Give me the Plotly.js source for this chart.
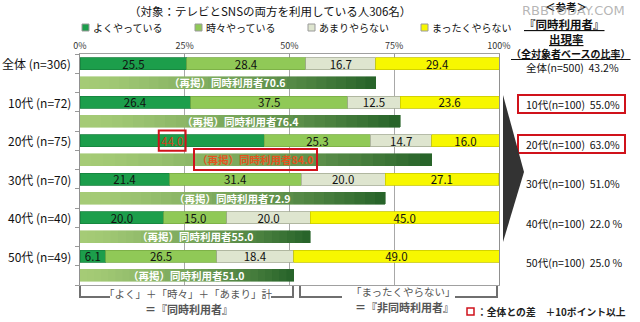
<!DOCTYPE html>
<html>
<head>
<meta charset="utf-8">
<script src="https://cdn.plot.ly/plotly-3.0.1.min.js"></script>
<style>html,body{margin:0;padding:0;background:#fff;}#chart{width:640px;height:322px;}</style>
</head>
<body>
<div id="chart"></div>
<script>
// ---- data ----
const categories = ['全体 (n=306)','10代 (n=72)','20代 (n=75)','30代 (n=70)','40代 (n=40)','50代 (n=49)'];
const seriesNames = ['よくやっている','時々やっている','あまりやらない','まったくやらない'];
const yoku     = [25.5, 26.4, 44.0, 21.4, 20.0, 6.1];
const tokidoki = [28.4, 37.5, 25.3, 31.4, 15.0, 26.5];
const amari    = [16.7, 12.5, 14.7, 20.0, 20.0, 18.4];
const mattaku  = [29.4, 23.6, 16.0, 27.1, 45.0, 49.0];
const doujiRecap = [70.6, 76.4, 84.0, 72.9, 55.0, 51.0];
const recapLabel = '（再掲）同時利用者';
const refLabels = ['全体(n=500)','10代(n=100)','20代(n=100)','30代(n=100)','40代(n=100)','50代(n=100)'];
const refRates  = [43.2, 55.0, 63.0, 51.0, 22.0, 25.0];
const refUnits  = ['%','%','%','%',' %',' %'];
const refHighlight = [false, true, true, false, false, false];
const mainHighlight = [false, false, true, false, false, false];
const xTickVals = [0, 25, 50, 75, 100];
const xTickText = ['0%','25%','50%','75%','100%'];

// ---- styling ----
const FONT = '"Noto Sans CJK JP", "Noto Sans", sans-serif';
const fills = ['#1c9e4b', '#90c957', '#dee5cf', '#f7f700'];
const lines = ['#17823d', '#79ad45', '#a4ab94', '#c9c900'];
const RED = '#d0121b';
const L = 80, R = 499, T = 54, B = 285;
const px = X => (X - L) / (R - L);
const py = Y => (B - Y) / (B - T);

const mainY = categories.map((_, i) => 2 * i);
const recapY = categories.map((_, i) => 2 * i + 1);
const BW = 0.62;

const data = [];
[yoku, tokidoki, amari, mattaku].forEach((vals, s) => {
  data.push({
    type: 'bar', orientation: 'h', name: seriesNames[s],
    x: vals, y: mainY, width: BW,
    marker: {color: fills[s], line: {color: lines[s], width: 0.8}},
    texttemplate: '%{x:.1f}', textposition: 'inside', insidetextanchor: 'middle',
    textangle: 0, constraintext: 'none',
    textfont: {family: FONT, size: 11.5, color: vals.map((_, i) => (s === 0 && mainHighlight[i]) ? '#d2401a' : '#111')},
    showlegend: false, hoverinfo: 'skip'
  });
});

// gradient recap bars (stacked slices of each recap value)
const N = 30;
const c0 = [165, 203, 118], c1 = [40, 100, 42];
for (let k = 0; k < N; k++) {
  const t = Math.pow(k / (N - 1), 1.4);
  const c = c0.map((a, j) => Math.round(a + (c1[j] - a) * t));
  const col = `rgb(${c[0]},${c[1]},${c[2]})`;
  data.push({
    type: 'bar', orientation: 'h', x: doujiRecap.map(v => v / N), y: recapY, width: BW,
    marker: {color: col, line: {color: col, width: 0.6}},
    showlegend: false, hoverinfo: 'skip'
  });
}

const annotations = [];
const shapes = [];

// row labels
categories.forEach((c, i) => annotations.push({
  xref: 'paper', yref: 'y', x: 0, y: mainY[i], xanchor: 'right', yanchor: 'middle', xshift: -7,
  text: c.replace(' ', '\u00a0'), showarrow: false, font: {family: FONT, size: 12, color: '#111'}
}));
// recap labels
doujiRecap.forEach((v, i) => {
  const hl = mainHighlight[i];
  annotations.push({
    xref: 'x', yref: 'y', x: v / 2, y: recapY[i], xanchor: 'center', yanchor: 'middle',
    text: '<b>' + recapLabel + v.toFixed(1) + '</b>', showarrow: false,
    font: {family: FONT, size: 10.5, color: hl ? '#e2551f' : '#ffffff'},
    bordercolor: hl ? RED : 'rgba(0,0,0,0)', borderwidth: hl ? 2 : 0, borderpad: 2
  });
});
// highlight box around main 44.0
yoku.forEach((v, i) => {
  if (mainHighlight[i]) shapes.push({
    type: 'rect', xref: 'x', yref: 'y', x0: v / 2 - 3.2, x1: v / 2 + 3.2,
    y0: mainY[i] - 0.52, y1: mainY[i] + 0.52, line: {color: RED, width: 2}
  });
});

// title
annotations.push({xref: 'paper', yref: 'paper', x: px(270), y: py(11), xanchor: 'center', yanchor: 'middle',
  text: '（対象：テレビとSNSの両方を利用している人306名）', showarrow: false,
  font: {family: FONT, size: 11.5, color: '#111'}});

// legend
const legX = [82, 195, 308, 421];
seriesNames.forEach((n, s) => {
  shapes.push({type: 'rect', xref: 'paper', yref: 'paper', x0: px(legX[s]), x1: px(legX[s] + 7),
    y0: py(31), y1: py(24), fillcolor: fills[s], line: {color: '#9a9a9a', width: 1}});
  annotations.push({xref: 'paper', yref: 'paper', x: px(legX[s] + 9), y: py(27.5), xanchor: 'left', yanchor: 'middle',
    text: n, showarrow: false, font: {family: FONT, size: 10, color: '#111'}});
});

// right panel
annotations.push({xref: 'paper', yref: 'paper', x: px(566), y: py(7), xanchor: 'center', yanchor: 'middle',
  text: '<b>＜参考＞</b>', showarrow: false, font: {family: FONT, size: 10.5, color: '#111'}});
annotations.push({xref: 'paper', yref: 'paper', x: px(573), y: py(11), xanchor: 'center', yanchor: 'middle',
  text: 'RBBTODAY.COM', showarrow: false, font: {family: '"DejaVu Sans", sans-serif', size: 13, color: 'rgba(150,150,150,0.7)'}});
annotations.push({xref: 'paper', yref: 'paper', x: px(564), y: py(24), xanchor: 'center', yanchor: 'middle',
  text: '<b><u>『同時利用者』</u></b>', showarrow: false, font: {family: FONT, size: 11.5, color: '#111'}});
annotations.push({xref: 'paper', yref: 'paper', x: px(566), y: py(39.5), xanchor: 'center', yanchor: 'middle',
  text: '<b><u>出現率</u></b>', showarrow: false, font: {family: FONT, size: 11.5, color: '#111'}});
annotations.push({xref: 'paper', yref: 'paper', x: px(571), y: py(53.5), xanchor: 'center', yanchor: 'middle',
  text: '<b><u>（全対象者ベースの比率）</u></b>', showarrow: false, font: {family: FONT, size: 10, color: '#111'}});
const refYpx = [68, 104, 144, 183, 223, 262];
refLabels.forEach((lab, i) => {
  annotations.push({xref: 'paper', yref: 'paper', x: px(524), y: py(refYpx[i]), xanchor: 'left', yanchor: 'middle',
    text: lab + '\u00a0\u00a0' + refRates[i].toFixed(1) + refUnits[i].replace(' ', '\u00a0'), showarrow: false,
    font: {family: FONT, size: 10.5, color: '#111'}});
  if (refHighlight[i]) shapes.push({type: 'rect', xref: 'paper', yref: 'paper',
    x0: px(518), x1: px(625), y0: py(refYpx[i] - 9), y1: py(refYpx[i] + 9), line: {color: RED, width: 2}});
});
// chevron
shapes.push({type: 'path', xref: 'paper', yref: 'paper',
  path: `M ${px(503)},${py(95)} L ${px(524)},${py(172)} L ${px(503)},${py(242)} Z`,
  fillcolor: '#333333', line: {width: 0}});

// bottom brackets
const brk = '#6f6f6f';
[`M ${px(80)},${py(286)} L ${px(80)},${py(297)} L ${px(110)},${py(297)}`,
 `M ${px(271)},${py(297)} L ${px(293)},${py(297)} L ${px(293)},${py(286)}`,
 `M ${px(300)},${py(286)} L ${px(300)},${py(297)} L ${px(342)},${py(297)}`,
 `M ${px(455)},${py(297)} L ${px(497)},${py(297)} L ${px(497)},${py(286)}`].forEach(p => {
  shapes.push({type: 'path', xref: 'paper', yref: 'paper', path: p, line: {color: brk, width: 2}});
});
annotations.push({xref: 'paper', yref: 'paper', x: px(188), y: py(293.5), xanchor: 'center', yanchor: 'middle',
  text: '「よく」＋「時々」＋「あまり」計', showarrow: false, font: {family: FONT, size: 10.5, color: '#555'}});
annotations.push({xref: 'paper', yref: 'paper', x: px(189), y: py(309), xanchor: 'center', yanchor: 'middle',
  text: '<b>＝『同時利用者』</b>', showarrow: false, font: {family: FONT, size: 11, color: '#555'}});
annotations.push({xref: 'paper', yref: 'paper', x: px(403), y: py(291.5), xanchor: 'center', yanchor: 'middle',
  text: '「まったくやらない」', showarrow: false, font: {family: FONT, size: 10.5, color: '#555'}});
annotations.push({xref: 'paper', yref: 'paper', x: px(404), y: py(307), xanchor: 'center', yanchor: 'middle',
  text: '<b>＝『非同時利用者』</b>', showarrow: false, font: {family: FONT, size: 11, color: '#555'}});

// bottom-right note
shapes.push({type: 'rect', xref: 'paper', yref: 'paper', x0: px(467), x1: px(474), y0: py(315), y1: py(308),
  fillcolor: '#fff', line: {color: RED, width: 1.5}});
annotations.push({xref: 'paper', yref: 'paper', x: px(475), y: py(312), xanchor: 'left', yanchor: 'middle',
  text: '<b>：全体との差　＋10ポイント以上</b>', showarrow: false, font: {family: FONT, size: 9.8, color: '#222'}});

const layout = {
  width: 640, height: 322,
  margin: {l: L, r: 640 - R, t: T, b: 322 - B, pad: 0},
  paper_bgcolor: '#fff', plot_bgcolor: '#fff',
  barmode: 'stack', showlegend: false,
  font: {family: FONT, color: '#111'},
  xaxis: {range: [0, 100], side: 'top', tickvals: xTickVals, ticktext: xTickText,
    tickfont: {family: FONT, size: 9, color: '#333'}, ticks: 'inside', ticklen: 3, tickcolor: '#999',
    showgrid: true, gridcolor: '#a8a8a8', gridwidth: 1, zeroline: false,
    showline: true, linecolor: '#a0a0a0', linewidth: 1, mirror: true, fixedrange: true},
  yaxis: {range: [11.5, -0.5], tickvals: [-0.5,0.5,1.5,2.5,3.5,4.5,5.5,6.5,7.5,8.5,9.5,10.5,11.5],
    showticklabels: false, ticks: 'outside', ticklen: 4, tickcolor: '#999',
    showgrid: false, zeroline: false, showline: true, linecolor: '#909090', linewidth: 1, mirror: true, fixedrange: true},
  annotations: annotations, shapes: shapes
};

Plotly.newPlot('chart', data, layout, {displayModeBar: false, staticPlot: true});
</script>
</body>
</html>
